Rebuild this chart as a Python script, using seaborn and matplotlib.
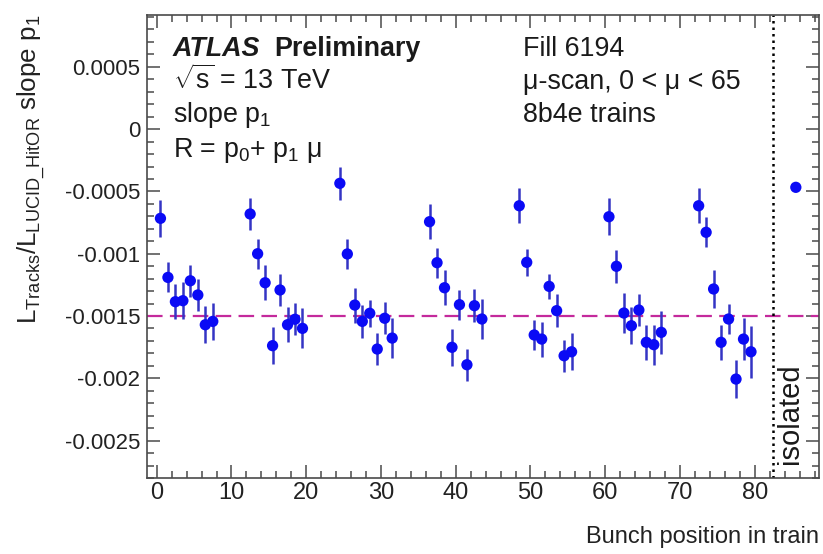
import matplotlib
matplotlib.use("Agg")
import matplotlib.pyplot as plt
import numpy as np
import pandas as pd
import seaborn as sns
from matplotlib.ticker import MultipleLocator, FuncFormatter

# ---------------- data ----------------
bunch_position = [0, 1, 2, 3, 4, 5, 6, 7,
                  12, 13, 14, 15, 16, 17, 18, 19,
                  24, 25, 26, 27, 28, 29, 30, 31,
                  36, 37, 38, 39, 40, 41, 42, 43,
                  48, 49, 50, 51, 52, 53, 54, 55,
                  60, 61, 62, 63, 64, 65, 66, 67,
                  72, 73, 74, 75, 76, 77, 78, 79]
slope_p1 = [-0.000716, -0.00119, -0.001385, -0.001377, -0.001217, -0.001331, -0.00157, -0.001543,
            -0.000681, -0.00100, -0.001233, -0.001738, -0.001291, -0.00157, -0.001526, -0.001599,
            -0.000435, -0.001002, -0.001412, -0.001543, -0.001478, -0.001765, -0.001518, -0.001677,
            -0.000743, -0.001072, -0.001273, -0.001751, -0.001409, -0.001891, -0.001417, -0.001524,
            -0.000615, -0.001069, -0.001652, -0.001685, -0.001262, -0.001457, -0.001819, -0.001787,
            -0.000703, -0.001101, -0.001476, -0.001578, -0.001452, -0.001711, -0.00173, -0.001631,
            -0.000615, -0.000828, -0.001283, -0.001711, -0.001524, -0.002006, -0.001685, -0.001787]
slope_err = [0.00015, 0.00012, 0.00014, 0.00015, 0.00013, 0.00013, 0.00015, 0.00015,
             0.00013, 0.00012, 0.00014, 0.00015, 0.00013, 0.00014, 0.00013, 0.00016,
             0.00013, 0.00012, 0.00014, 0.00013, 0.00011, 0.00013, 0.00013, 0.00016,
             0.00014, 0.00012, 0.00014, 0.00015, 0.00012, 0.00013, 0.00013, 0.00016,
             0.00014, 0.00011, 0.00012, 0.00014, 0.00010, 0.00013, 0.00013, 0.00015,
             0.00015, 0.00013, 0.00016, 0.00015, 0.00013, 0.00014, 0.00016, 0.00017,
             0.00014, 0.00012, 0.00015, 0.00014, 0.00012, 0.00015, 0.00017, 0.00021]
isolated_position = [85]
isolated_slope = [-0.000467]
isolated_err = [0.00002]
reference_level = -0.0015
isolated_boundary = 82.5
x_ticks = [0, 10, 20, 30, 40, 50, 60, 70, 80]

# ---------------- style ----------------
sns.set_style("ticks")
plt.rcParams["font.family"] = ["Liberation Sans", "DejaVu Sans"]
plt.rcParams["mathtext.fontset"] = "custom"
plt.rcParams["mathtext.rm"] = "Liberation Sans"
plt.rcParams["mathtext.it"] = "Liberation Sans:italic"
plt.rcParams["mathtext.bf"] = "Liberation Sans:bold"

W, H = 823, 554
fig = plt.figure(figsize=(W / 100, H / 100), dpi=100)
ax_l, ax_r, ax_t, ax_b = 147, 819, 14.5, 478
ax = fig.add_axes([ax_l / W, 1 - ax_b / H, (ax_r - ax_l) / W, (ax_b - ax_t) / H])

df = pd.DataFrame({
    "pos": np.concatenate([np.array(bunch_position), np.array(isolated_position)]) + 0.5,
    "slope": slope_p1 + isolated_slope,
    "err": slope_err + isolated_err,
})

marker_blue = "#0a0af5"
bar_blue = "#3434c4"

ax.errorbar(df["pos"], df["slope"], yerr=df["err"], fmt="none",
            ecolor=bar_blue, elinewidth=1.8, capsize=0, zorder=3)
sns.scatterplot(data=df, x="pos", y="slope", ax=ax, color=marker_blue,
                s=66, edgecolor="none", zorder=4, legend=False)

ax.axhline(reference_level, color="#c42a9c", lw=1.6, dashes=(7.0, 3.3), zorder=2)
ax.axvline(isolated_boundary, color="black", lw=1.8, linestyle=(0, (1.0, 1.6)), zorder=2)

ax.set_xlim(-1.3, 88.6)
ax.set_ylim(-0.0028, 0.00092)

ax.set_xticks(x_ticks)
ax.xaxis.set_minor_locator(MultipleLocator(2))
ax.yaxis.set_major_locator(MultipleLocator(0.0005))
ax.yaxis.set_minor_locator(MultipleLocator(0.0001))
ax.yaxis.set_major_formatter(FuncFormatter(lambda v, p: "%g" % (0 if abs(v) < 1e-12 else v)))

frame_col = "#4a4a4a"
for s in ax.spines.values():
    s.set_color(frame_col)
    s.set_linewidth(1.2)
ax.tick_params(which="both", direction="in", top=True, right=True, color=frame_col, width=1.1)
ax.tick_params(which="major", length=9.5, labelcolor="#222222")
ax.tick_params(which="minor", length=5)
ax.tick_params(axis="x", which="major", pad=3, labelsize=17)
ax.tick_params(axis="y", which="major", pad=5, labelsize=16)

ax.set_xlabel("Bunch position in train", fontsize=17, color="#222222", loc="right")
ax.xaxis.set_label_coords(1.0, -0.103)
ax.set_ylabel(r"$\mathregular{L_{Tracks}/L_{LUCID\_HitOR}}$ slope $\mathregular{p_{1}}$",
              fontsize=18.7, color="#222222", loc="top")
ax.yaxis.set_label_coords(-0.148, 1.0)

tx = dict(transform=ax.transAxes, fontsize=19.4, color="#1a1a1a", va="baseline", ha="left")
ax.text(0.0387, 0.910, "ATLAS", fontweight="bold", fontstyle="italic", **tx)
ax.text(0.190, 0.910, "Preliminary", fontweight="bold", **tx)
ax.text(0.0387, 0.839, r"$\mathregular{\sqrt{s}}$ = 13 TeV", **tx)
ax.text(0.0387, 0.768, r"slope $\mathregular{p_{1}}$", **tx)
ax.text(0.0387, 0.6926, r"R = $\mathregular{p_{0}}$+ $\mathregular{p_{1}}$ μ", **tx)
ax.text(0.5595, 0.910, "Fill 6194", **tx)
ax.text(0.5595, 0.839, "μ-scan, 0 < μ < 65", **tx)
ax.text(0.5595, 0.768, "8b4e trains", **tx)

ax.text(0.957, 0.138, "isolated", transform=ax.transAxes, fontsize=21, color="#1a1a1a",
        rotation=90, ha="center", va="center")

fig.savefig("out.png", dpi=100)
